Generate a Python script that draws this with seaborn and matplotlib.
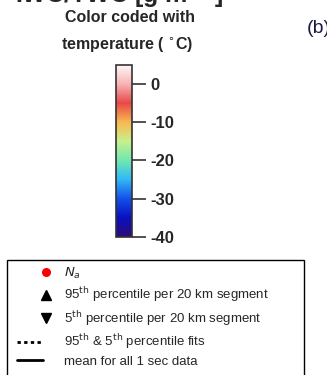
import numpy as np
import matplotlib
matplotlib.use("Agg")
import matplotlib.pyplot as plt
import seaborn as sns
from matplotlib.colors import Normalize
from matplotlib.cm import ScalarMappable
from matplotlib.lines import Line2D
from matplotlib.patches import Rectangle
from matplotlib.legend_handler import HandlerLine2D

sns.set_style("white")
plt.rcParams['font.family'] = ['Liberation Sans', 'DejaVu Sans']

# data
temp_ticks = [0, -10, -20, -30, -40]
temp_range = [-40, 5]
cmap_colors = ["#2c0c78", "#0810c0", "#1450e8", "#30b8f8", "#70e8b0",
               "#c8f08c", "#f8b850", "#e84848", "#f8b4b4", "#fff6f6"]
legend_labels = [r"$N_a$",
                 r"95$^{\rm th}$ percentile per 20 km segment",
                 r"5$^{\rm th}$ percentile per 20 km segment",
                 r"95$^{\rm th}$ & 5$^{\rm th}$ percentile fits",
                 "mean for all 1 sec data"]

W, H = 327, 375
fig = plt.figure(figsize=(W / 100, H / 100), dpi=100)

def px(x0, y0, x1, y1):
    return [x0 / W, 1 - y1 / H, (x1 - x0) / W, (y1 - y0) / H]

cmap = sns.blend_palette(cmap_colors, as_cmap=True)
cax = fig.add_axes(px(115.5, 64.5, 132, 237))
sm = ScalarMappable(norm=Normalize(*temp_range), cmap=cmap)
cb = fig.colorbar(sm, cax=cax, ticks=temp_ticks)
cb.outline.set_linewidth(1.2)
cb.outline.set_edgecolor("#333333")
cax.tick_params(axis="y", length=10, width=1.2, color="#333333", pad=3.5,
                labelsize=12)
cax.set_yticklabels([str(t) for t in temp_ticks], fontweight="bold")

# titles
fig.text(130 / W, 1 - 22 / H, "Color coded with", ha="center", va="baseline",
         fontsize=11.5, fontweight="bold")
fig.text(127 / W, 1 - 49 / H, r"temperature ( $^{\circ}$C)", ha="center",
         va="baseline", fontsize=11.5, fontweight="bold")
fig.text(15 / W, 1 - 4 / H, r"IWC/TWC [g m$^{\mathbf{-3}}$]", ha="left",
         va="baseline", fontsize=18, fontweight="bold")
fig.text(307 / W, 1 - 33 / H, "(b)", ha="left", va="baseline", fontsize=14,
         color="#1a1a40")

# legend box
fig.patches.append(Rectangle((7 / W, -0.05), (304 - 7) / W, 1 - 260 / H + 0.05,
                             transform=fig.transFigure, fill=False,
                             edgecolor="black", linewidth=1.0))
handles = [
    Line2D([], [], marker="o", color="red", linestyle="none", markersize=5.5),
    Line2D([], [], marker="^", color="black", linestyle="none", markersize=7),
    Line2D([], [], marker="v", color="black", linestyle="none", markersize=7),
    Line2D([], [], color="black", linestyle=(0, (1.2, 1.2)), linewidth=2),
    Line2D([], [], color="black", linestyle="-", linewidth=2),
]
mk = HandlerLine2D(numpoints=1, xpad=2.4)
leg = fig.legend(handles, legend_labels, loc="upper left",
                 bbox_to_anchor=(17 / W, 1 - 266 / H), frameon=False,
                 fontsize=9.5, handlelength=2.0, handletextpad=1.55,
                 labelspacing=0.34, borderaxespad=0, borderpad=0,
                 handler_map={handles[0]: mk, handles[1]: mk, handles[2]: mk})
fig.savefig("out.png", dpi=100)
